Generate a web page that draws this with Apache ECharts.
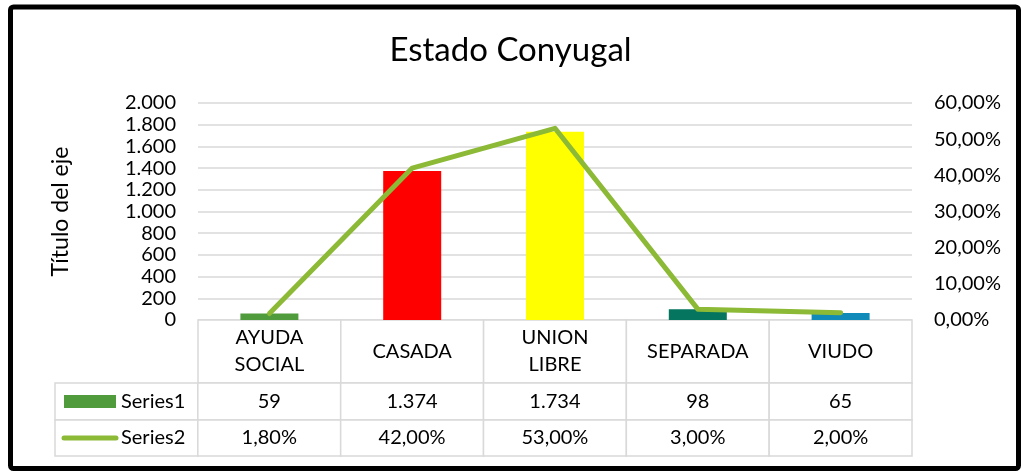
<!DOCTYPE html>
<html>
<head>
<meta charset="utf-8">
<script src="https://cdn.jsdelivr.net/npm/echarts@6/dist/echarts.min.js"></script>
<style>
html, body { margin: 0; padding: 0; background: #fff; }
#chart { width: 1021px; height: 476px; }
</style>
</head>
<body>
<div id="chart"></div>
<script>
// datos
const categories = ['AYUDA\nSOCIAL', 'CASADA', 'UNION\nLIBRE', 'SEPARADA', 'VIUDO']
const series1 = [59, 1374, 1734, 98, 65]
const series2 = [1.8, 42, 53, 3, 2]
const seriesNames = ['Series1', 'Series2']

// estilos
const barColors = ['#509b3c', '#ff0000', '#ffff00', '#05755f', '#108ab8']
const legendColor = '#509b3c'
const lineColor = '#8cba36'
const gridColor = '#d9d9d9'
const font = 'Lato, "Open Sans", sans-serif'

// miles con punto, decimales con coma
function fmtNum(v) {
  return String(v).replace(/\B(?=(\d{3})+(?!\d))/g, '.')
}
function fmtPct(v) {
  return v.toFixed(2).replace('.', ',') + '%'
}

// celda de la tabla de datos
function cellRenderer(texts, swatch) {
  return function (params, api) {
    const cs = params.coordSys
    const i = params.dataIndex
    const cx = api.coord([i, 0])[0]
    const w = api.size([1, 0])[0]
    const x0 = cx - w / 2
    const cy = cs.y + cs.height / 2
    const children = [{
      type: 'rect',
      shape: { x: x0, y: cs.y, width: w, height: cs.height },
      style: { fill: '#fff', stroke: gridColor, lineWidth: 1.5 }
    }]
    if (swatch && i === 0) {
      if (swatch === 'bar') {
        children.push({
          type: 'rect',
          shape: { x: x0 + 9, y: cy - 6.5, width: 52, height: 13 },
          style: { fill: legendColor }
        })
      } else {
        children.push({
          type: 'line',
          shape: { x1: x0 + 9, y1: cy, x2: x0 + 61, y2: cy },
          style: { stroke: lineColor, lineWidth: 5, lineCap: 'round' }
        })
      }
      children.push({
        type: 'text',
        style: {
          x: x0 + 66, y: cy, text: texts[i],
          fontSize: 20, fontFamily: font, fill: '#000',
          align: 'left', verticalAlign: 'middle'
        }
      })
    } else {
      children.push({
        type: 'text',
        style: {
          x: cx, y: cy, text: texts[i],
          fontSize: 20, lineHeight: 27, fontFamily: font, fill: '#000',
          align: 'center', verticalAlign: 'middle'
        }
      })
    }
    return { type: 'group', children }
  }
}

const chart = echarts.init(document.getElementById('chart'))

const row1Texts = [seriesNames[0]].concat(series1.map(fmtNum))
const row2Texts = [seriesNames[1]].concat(series2.map(fmtPct))
const rowCats = [''].concat(categories)

const option = {
  backgroundColor: '#fff',
  animation: false,
  title: {
    text: 'Estado Conyugal',
    left: 'center',
    top: 29,
    textStyle: { fontSize: 33, fontWeight: 'normal', color: '#000', fontFamily: font }
  },
  graphic: [{
    type: 'rect',
    shape: { x: 10.5, y: 7, width: 1008, height: 461.5, r: 3 },
    style: { fill: 'none', stroke: '#000', lineWidth: 5 },
    z: 100
  }],
  grid: [
    { left: 198, right: 109, top: 103, height: 217 },
    { left: 198, right: 109, top: 320, height: 63 },
    { left: 55, right: 109, top: 383, height: 37 },
    { left: 55, right: 109, top: 420, height: 36 }
  ],
  xAxis: [
    {
      type: 'category', gridIndex: 0, data: categories,
      axisLine: { show: false }, axisTick: { show: false },
      axisLabel: { show: false }, splitLine: { show: false }
    },
    { type: 'category', gridIndex: 1, data: categories, show: false },
    { type: 'category', gridIndex: 2, data: rowCats, show: false },
    { type: 'category', gridIndex: 3, data: rowCats, show: false }
  ],
  yAxis: [
    {
      type: 'value', gridIndex: 0, min: 0, max: 2000, interval: 200,
      name: 'Título del eje', nameLocation: 'middle', nameGap: 126, nameRotate: 90,
      nameTextStyle: { fontSize: 23, color: '#000', fontFamily: font },
      axisLine: { show: false }, axisTick: { show: false },
      axisLabel: { formatter: fmtNum, fontSize: 20, color: '#000', fontFamily: font, margin: 22 },
      splitLine: { lineStyle: { color: gridColor, width: 1.5 } }
    },
    {
      type: 'value', gridIndex: 0, position: 'right', min: 0, max: 60, interval: 10,
      axisLine: { show: false }, axisTick: { show: false },
      axisLabel: { formatter: fmtPct, fontSize: 20, color: '#000', fontFamily: font, margin: 22 },
      splitLine: { show: false }
    },
    { type: 'value', gridIndex: 1, min: 0, max: 1, show: false },
    { type: 'value', gridIndex: 2, min: 0, max: 1, show: false },
    { type: 'value', gridIndex: 3, min: 0, max: 1, show: false }
  ],
  series: [
    {
      name: seriesNames[0],
      type: 'bar',
      xAxisIndex: 0,
      yAxisIndex: 0,
      barWidth: 58,
      data: series1.map((v, i) => ({ value: v, itemStyle: { color: barColors[i] } }))
    },
    {
      name: seriesNames[1],
      type: 'line',
      xAxisIndex: 0,
      yAxisIndex: 1,
      symbol: 'none',
      data: series2,
      lineStyle: { color: lineColor, width: 5, cap: 'round', join: 'round' },
      z: 3
    },
    {
      type: 'custom',
      xAxisIndex: 1,
      yAxisIndex: 2,
      data: categories.map((c, i) => [i, 0]),
      renderItem: cellRenderer(categories, null)
    },
    {
      type: 'custom',
      xAxisIndex: 2,
      yAxisIndex: 3,
      data: rowCats.map((c, i) => [i, 0]),
      renderItem: cellRenderer(row1Texts, 'bar')
    },
    {
      type: 'custom',
      xAxisIndex: 3,
      yAxisIndex: 4,
      data: rowCats.map((c, i) => [i, 0]),
      renderItem: cellRenderer(row2Texts, 'line')
    }
  ]
}

chart.setOption(option)
</script>
</body>
</html>
